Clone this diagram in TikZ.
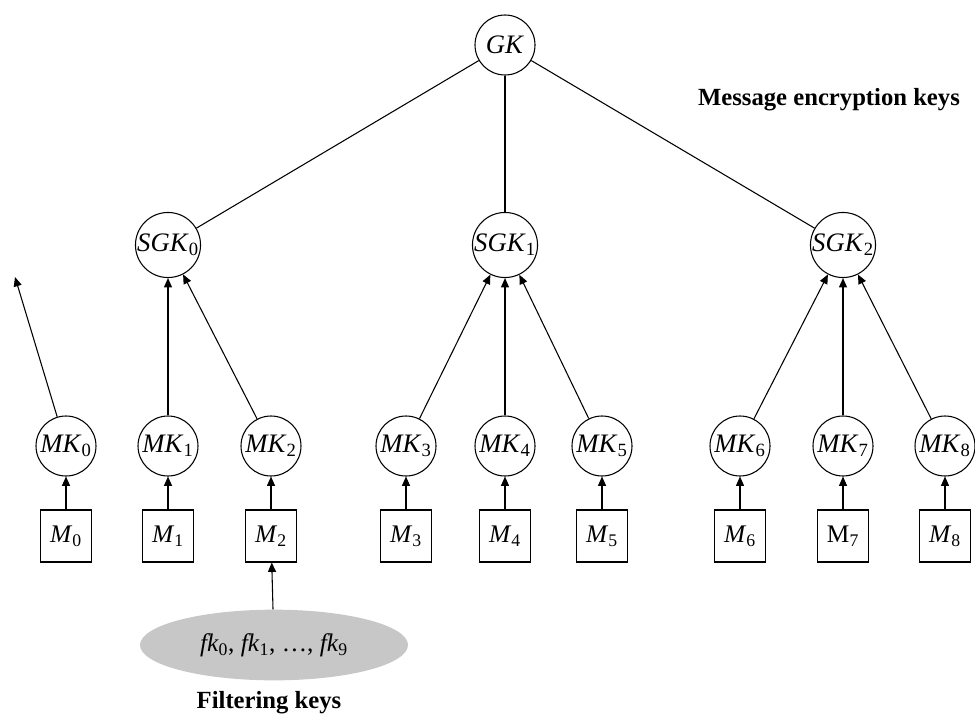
\documentclass[tikz,border=0pt]{standalone}
\usepackage{fontspec}
\setmainfont{Liberation Serif}
\usetikzlibrary{arrows.meta,shapes.geometric}
\newcommand{\ksub}[2]{\textit{#1}\textsubscript{#2}}
\begin{document}
\begin{tikzpicture}[x=0.75pt,y=-0.75pt,
  keynode/.style={circle,draw,line width=0.8pt,minimum size=45pt,inner sep=0pt,font=\fontsize{20}{22}\selectfont},
  msgbox/.style={rectangle,draw,line width=0.8pt,minimum width=38pt,minimum height=39pt,inner sep=0pt,font=\fontsize{19}{22}\selectfont},
  link/.style={line width=0.8pt},
  arr/.style={line width=0.8pt,-{Triangle[length=7pt,width=6pt]}},
  lbl/.style={font=\fontsize{18.5}{21}\selectfont\bfseries}]
\useasboundingbox (0,0) rectangle (975,722);
\node[keynode] (gk) at (505,45) {\textit{GK}};
\node[keynode] (s0) at (168,245) {\ksub{SGK}{0}};
\node[keynode] (s1) at (505,245) {\ksub{SGK}{1}};
\node[keynode] (s2) at (843,245) {\ksub{SGK}{2}};
\foreach \i/\x in {0/66,1/168,2/271,3/406,4/505,5/602,6/740,7/843,8/945}{
  \node[keynode] (mk\i) at (\x,446) {\ksub{MK}{\i}};
}
\foreach \i/\x in {0/66,1/168,2/271,3/406,4/505,5/602,6/740,8/945}{
  \node[msgbox] (m\i) at (\x,536) {\ksub{M}{\i}};
}
\node[msgbox] (m7) at (843,536) {M\textsubscript{7}};
\node[ellipse,fill=black!22,minimum width=201pt,minimum height=53pt,inner sep=0pt,font=\fontsize{19}{22}\selectfont] (fk) at (274,645) {\ksub{fk}{0}, \ksub{fk}{1}, \ldots, \ksub{fk}{9}};
\node[lbl] (enc) at (829,100) {Message encryption keys};
\node[lbl] (filt) at (269,703) {Filtering keys};
\coordinate (free) at (15,277);
\draw[link] (gk) -- (s0);
\draw[link] (gk) -- (s1);
\draw[link] (gk) -- (s2);
\draw[arr] (mk0) -- (free);
\draw[arr] (mk1) -- (s0);
\draw[arr] (mk2) -- (s0);
\draw[arr] (mk3) -- (s1);
\draw[arr] (mk4) -- (s1);
\draw[arr] (mk5) -- (s1);
\draw[arr] (mk6) -- (s2);
\draw[arr] (mk7) -- (s2);
\draw[arr] (mk8) -- (s2);
\foreach \i in {0,...,8}{\draw[arr] (m\i) -- (mk\i);}
\draw[arr] (fk) -- (m2);
\end{tikzpicture}
\end{document}
